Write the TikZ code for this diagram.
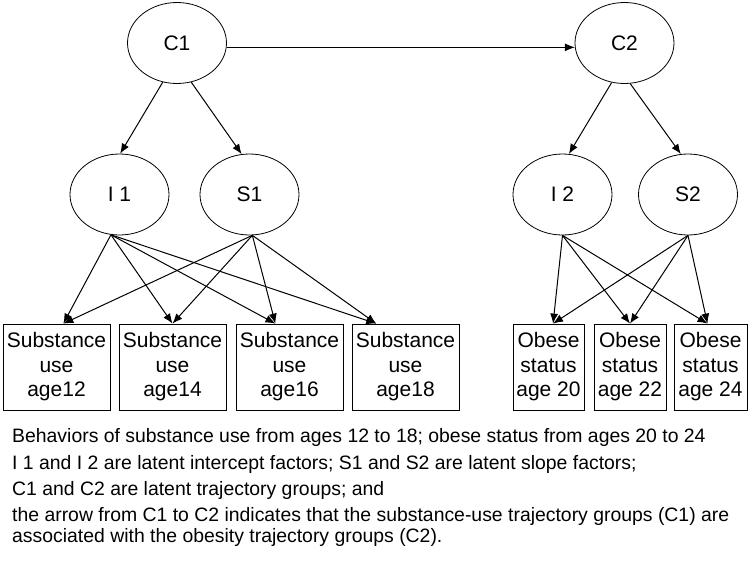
\documentclass[tikz,border=0pt]{standalone}
\usepackage{fontspec}
\setmainfont{Liberation Sans}
\usetikzlibrary{arrows.meta,shapes.geometric}
\begin{document}
\begin{tikzpicture}[x=1pt,y=-1pt,
  lat/.style={draw,ellipse,line width=0.8pt,minimum width=99pt,minimum height=81pt,inner sep=0pt,font=\fontsize{21}{24}\selectfont},
  obs/.style={draw,rectangle,line width=0.8pt,minimum height=86pt,inner sep=0pt,align=center,font=\fontsize{21}{24.5}\selectfont},
  arr/.style={line width=1pt,-{Latex[length=10pt,width=8pt]}},
  desc/.style={anchor=base west,inner sep=0pt,font=\fontsize{19.4}{22}\selectfont}]
\useasboundingbox (0,0) rectangle (750,560);
% latent nodes
\node[lat] (C1) at (177,43) {C1};
\node[lat] (C2) at (624.5,43) {C2};
\node[lat] (I1) at (119.5,194.5) {I 1};
\node[lat] (S1) at (249.5,194.5) {S1};
\node[lat] (I2) at (562.5,194.5) {I 2};
\node[lat] (S2) at (688,194.5) {S2};
% observed boxes
\node[obs,minimum width=107pt] (b1) at (56.5,367) {Substance\\use\\age12};
\node[obs,minimum width=107pt] (b2) at (172.5,367) {Substance\\use\\age14};
\node[obs,minimum width=107pt] (b3) at (289.5,367) {Substance\\use\\age16};
\node[obs,minimum width=107pt] (b4) at (405.5,367) {Substance\\use\\age18};
\node[obs,minimum width=71pt] (b5) at (548.5,367) {Obese\\status\\age 20};
\node[obs,minimum width=72pt] (b6) at (630,367) {Obese\\status\\age 22};
\node[obs,minimum width=73pt] (b7) at (710.5,367) {Obese\\status\\age 24};
% top arrows
\draw[arr] (C1.-5) -- (C2.-175);
\draw[arr] (C1.-110) -- (I1.89);
\draw[arr] (C1.-70) -- (S1.101);
\draw[arr] (C2.-108) -- (I2.81);
\draw[arr] (C2.-82) -- (S2.100);
% loadings, substance use
\foreach \s/\a in {I1/-102,S1/-86} {
  \draw[arr] (\s.\a) -- (b1.81);
  \draw[arr] (\s.\a) -- (b2.90);
  \draw[arr] (\s.\a) -- (b3.108);
  \draw[arr] (\s.\a) -- (b4.124);
}
% loadings, obese status
\foreach \s in {I2,S2} {
  \draw[arr] (\s.south) -- (b5.84);
  \draw[arr] (\s.south) -- (b6.90);
  \draw[arr] (\s.south) -- (b7.94);
}
% description
\node[desc] (l1) at (12,442) {Behaviors of substance use from ages 12 to 18; obese status from ages 20 to 24};
\node[desc] (l2) at (12,469) {I 1 and I 2 are latent intercept factors; S1 and S2 are latent slope factors;};
\node[desc] (l3) at (12,495) {C1 and C2 are latent trajectory groups; and};
\node[desc] (l4) at (12,521) {the arrow from C1 to C2 indicates that the substance-use trajectory groups (C1) are};
\node[desc] (l5) at (12,542) {associated with the obesity trajectory groups (C2).};
\end{tikzpicture}
\end{document}
